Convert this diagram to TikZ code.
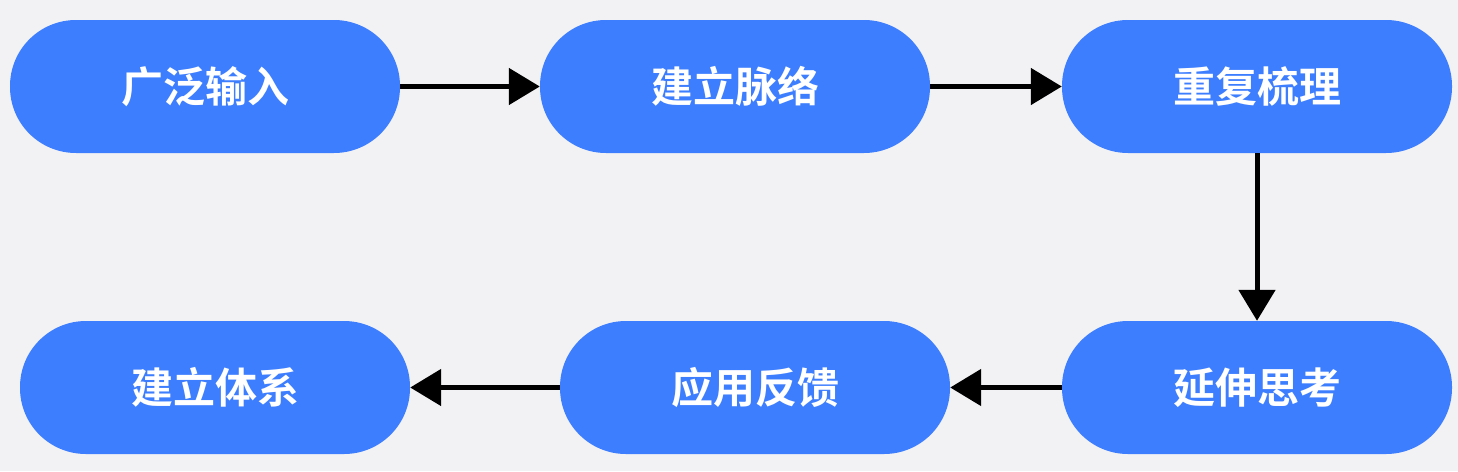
\documentclass[tikz,border=0pt]{standalone}
\usepackage{fontspec}
\newfontfamily\cjk{Noto Sans CJK SC Bold}
\usetikzlibrary{arrows.meta}
\definecolor{nodeblue}{HTML}{3D7EFF}
\definecolor{bg}{HTML}{F2F2F4}
\tikzset{
  pill/.style={fill=nodeblue, rounded corners=66pt, minimum width=390pt, minimum height=133pt, inner sep=0pt, text=white, font=\cjk\fontsize{42}{42}\selectfont},
  flow/.style={line width=5pt, -{Triangle[length=31pt, width=36pt]}, shorten >=0pt}
}
\begin{document}
\begin{tikzpicture}[x=1pt,y=-1pt]
\fill[bg] (0,0) rectangle (1458,471);
\useasboundingbox (0,0) rectangle (1458,471);
\node[pill] (a) at (205,86.5) {广泛输入};
\node[pill] (b) at (735,86.5) {建立脉络};
\node[pill] (c) at (1257,86.5) {重复梳理};
\node[pill] (d) at (1257,387.5) {延伸思考};
\node[pill] (e) at (755,387.5) {应用反馈};
\node[pill] (f) at (215,387.5) {建立体系};
\draw[flow] (a.east) -- (b.west);
\draw[flow] (b.east) -- (c.west);
\draw[flow] (c.south) -- (d.north);
\draw[flow] (d.west) -- (e.east);
\draw[flow] (e.west) -- (f.east);
\end{tikzpicture}
\end{document}
